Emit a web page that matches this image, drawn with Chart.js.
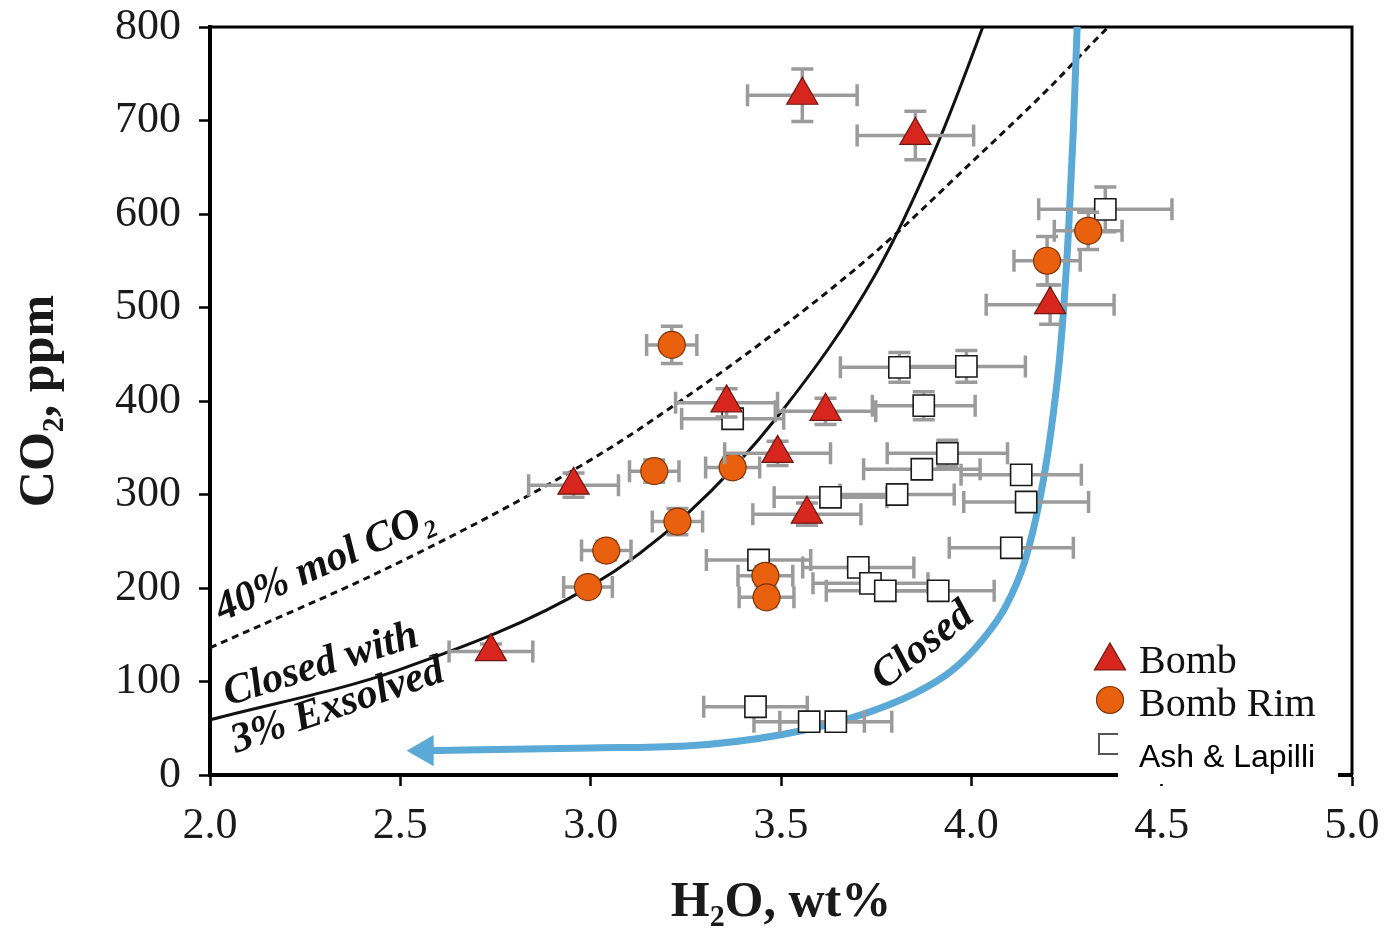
<!DOCTYPE html>
<html>
<head>
<meta charset="utf-8">
<script src="https://cdn.jsdelivr.net/npm/chart.js@4.4.1/dist/chart.umd.min.js"></script>
<style>
  html, body { margin: 0; padding: 0; background: #fff; }
  #wrap { width: 1386px; height: 937px; position: relative; }
</style>
</head>
<body>
<div id="wrap"><canvas id="co2Chart"></canvas></div>
<script>
    // Bomb (triangles)
    const bombH2O    = [3.556, 3.853, 4.207, 3.357, 3.617, 3.491, 2.955, 3.568, 2.738];
    const bombCO2    = [727, 684, 503, 398, 389, 344, 310, 279, 132];
    const bombH2OErr = [0.144, 0.153, 0.168, 0.134, 0.132, 0.139, 0.118, 0.142, 0.110];
    const bombCO2Err = [28, 26, 21, 15, 14, 13, 13, 12, 8];

    // Bomb Rim (circles)
    const rimH2O    = [3.213, 3.167, 3.373, 3.228, 3.041, 2.993, 3.459, 3.462, 4.199, 4.307];
    const rimCO2    = [460, 325, 329, 271, 240, 201, 213, 190, 550, 582];
    const rimH2OErr = [0.066, 0.065, 0.071, 0.066, 0.065, 0.064, 0.072, 0.072, 0.087, 0.089];
    const rimCO2Err = [20, 12, 10, 14, 10, 8, 10, 10, 26, 20];

    // Ash & Lapilli (squares)
    const ashH2O    = [4.352, 3.811, 3.987, 3.875, 3.373, 3.937, 3.870, 4.131, 3.630, 3.805,
                       4.144, 4.105, 3.441, 3.703, 3.735, 3.774, 3.913, 3.433, 3.574, 3.644];
    const ashCO2    = [605, 436, 437, 395, 381, 344, 327, 321, 297, 300,
                       292, 243, 230, 222, 205, 197, 197, 73, 57, 57];
    const ashH2OErr = [0.175, 0.155, 0.155, 0.135, 0.134, 0.158, 0.153, 0.158, 0.148, 0.150,
                       0.164, 0.163, 0.137, 0.146, 0.151, 0.155, 0.147, 0.136, 0.145, 0.147];
    const ashCO2Err = [24, 16, 17, 15, 10, 14, 10, 8, 5, 5,
                       5, 5, 5, 5, 0, 0, 0, 0, 0, 0];

    // model curves
    const mol40H2O = [2.0, 2.5, 3.0, 3.25, 3.5, 3.75, 4.0, 4.2, 4.36, 4.4];
    const mol40CO2 = [136, 228, 337, 404, 478, 560, 655, 733, 800, 815];

    const exsolvedH2O = [2.0, 2.5, 3.0, 3.25, 3.5, 3.75, 3.9, 4.03, 4.06];
    const exsolvedCO2 = [59, 113, 202, 278, 388, 537, 664, 800, 835];

    const closedH2O = [2.564, 3.0, 3.25, 3.5, 3.7, 3.85, 3.95, 4.03, 4.09, 4.14, 4.18, 4.21, 4.235, 4.255, 4.268, 4.278, 4.281];
    const closedCO2 = [26, 29, 31, 43, 63, 87, 112, 145, 180, 228, 295, 370, 460, 580, 690, 800, 830];

    const xTicks = [2.0, 2.5, 3.0, 3.5, 4.0, 4.5, 5.0];
    const yTicks = [0, 100, 200, 300, 400, 500, 600, 700, 800];

    const toPts = (xs, ys) => xs.map((v, i) => ({ x: v, y: ys[i] }));

    Chart.defaults.font.family = '"Liberation Serif", "Times New Roman", serif';
    Chart.defaults.color = '#1a1a1a';

    // gray error bars under each marker series
    const errorBars = {
        id: 'errorBars',
        beforeDatasetDraw(chart, args) {
            const ds = chart.data.datasets[args.index];
            if (!ds.xErr) return;
            const { ctx, scales: { x, y } } = chart;
            const cap = 11;
            ctx.save();
            ctx.strokeStyle = '#9b9b9b';
            ctx.lineWidth = 3.5;
            ds.data.forEach((p, i) => {
                const px = x.getPixelForValue(p.x), py = y.getPixelForValue(p.y);
                const ex = ds.xErr[i], ey = ds.yErr[i];
                ctx.beginPath();
                if (ex) {
                    const l = x.getPixelForValue(p.x - ex), r = x.getPixelForValue(p.x + ex);
                    ctx.moveTo(l, py); ctx.lineTo(r, py);
                    ctx.moveTo(l, py - cap); ctx.lineTo(l, py + cap);
                    ctx.moveTo(r, py - cap); ctx.lineTo(r, py + cap);
                }
                if (ey) {
                    const t = y.getPixelForValue(p.y + ey), b = y.getPixelForValue(p.y - ey);
                    ctx.moveTo(px, t); ctx.lineTo(px, b);
                    ctx.moveTo(px - cap, t); ctx.lineTo(px + cap, t);
                    ctx.moveTo(px - cap, b); ctx.lineTo(px + cap, b);
                }
                ctx.stroke();
            });
            ctx.restore();
        }
    };

    // top/right frame
    const frame = {
        id: 'frame',
        beforeDatasetsDraw(chart) {
            const { ctx, chartArea: a } = chart;
            ctx.save();
            ctx.strokeStyle = '#000';
            ctx.lineWidth = 3;
            ctx.beginPath();
            ctx.moveTo(a.left, a.top); ctx.lineTo(a.right, a.top); ctx.lineTo(a.right, a.bottom);
            ctx.stroke();
            ctx.restore();
        }
    };

    // curve labels, placed in data units
    const curveLabels = [
        { text: '40% mol CO\u2082', x: 2.031, y: 164, angle: -24 },
        { text: 'Closed with', x: 2.047, y: 74, angle: -17.5 },
        { text: '3% Exsolved', x: 2.068, y: 23.5, angle: -19 },
        { text: 'Closed', x: 3.77, y: 90, angle: -38 }
    ];
    const labelsPlugin = {
        id: 'curveLabels',
        afterDatasetsDraw(chart) {
            const { ctx, scales: { x, y } } = chart;
            ctx.save();
            ctx.fillStyle = '#111';
            ctx.font = 'italic bold 42px "Liberation Serif"';
            ctx.textAlign = 'left';
            ctx.textBaseline = 'alphabetic';
            curveLabels.forEach(l => {
                ctx.save();
                ctx.translate(x.getPixelForValue(l.x), y.getPixelForValue(l.y));
                ctx.rotate(l.angle * Math.PI / 180);
                ctx.fillText(l.text, 0, 0);
                ctx.restore();
            });
            ctx.restore();
        }
    };

    // legend in the lower right corner
    const legendBox = {
        id: 'legendBox',
        afterDraw(chart) {
            const ctx = chart.ctx;
            const h = Chart.helpers;
            ctx.save();
            ctx.lineWidth = 1.2;
            ctx.fillStyle = '#d7261e'; ctx.strokeStyle = '#6e1710';
            h.drawPoint(ctx, { pointStyle: 'triangle', radius: 18, rotation: 0, borderWidth: 1.2 }, 1110, 661);
            ctx.fillStyle = '#e9600e'; ctx.strokeStyle = '#7d3509';
            h.drawPoint(ctx, { pointStyle: 'circle', radius: 13.5, rotation: 0, borderWidth: 1.2 }, 1110, 700);

            ctx.fillStyle = '#fff'; ctx.strokeStyle = '#555'; ctx.lineWidth = 2;
            ctx.fillRect(1099, 734, 20, 20);
            ctx.strokeRect(1099, 734, 20, 20);
            ctx.fillStyle = '#fff';
            ctx.fillRect(1118, 730, 220, 54);

            ctx.fillStyle = '#111';
            ctx.textAlign = 'left';
            ctx.textBaseline = 'alphabetic';
            ctx.font = '40px "Liberation Serif"';
            ctx.fillText('Bomb', 1139, 673);
            ctx.fillText('Bomb Rim', 1139, 716);
            ctx.fillStyle = '#000';
            ctx.font = '32px "Liberation Sans"';
            ctx.fillText('Ash & Lapilli', 1139, 767);
            ctx.restore();
        }
    };

    const ctx = document.getElementById('co2Chart').getContext('2d');
    new Chart(ctx, {
        type: 'scatter',
        data: {
            datasets: [
                {
                    label: '40% mol CO2',
                    data: toPts(mol40H2O, mol40CO2),
                    showLine: true, borderColor: '#111', borderWidth: 3, borderDash: [7, 5],
                    pointRadius: 0, cubicInterpolationMode: 'monotone', order: 10
                },
                {
                    label: 'Closed with 3% Exsolved',
                    data: toPts(exsolvedH2O, exsolvedCO2),
                    showLine: true, borderColor: '#111', borderWidth: 3,
                    pointRadius: 0, cubicInterpolationMode: 'monotone', order: 9
                },
                {
                    label: 'Closed',
                    data: toPts(closedH2O, closedCO2),
                    showLine: true, borderColor: '#5ba9d6', borderWidth: 7,
                    backgroundColor: '#5ba9d6',
                    pointStyle: 'triangle', pointRotation: -90,
                    pointRadius: c => c.dataIndex === 0 ? 18 : 0,
                    pointBorderWidth: 0,
                    cubicInterpolationMode: 'monotone', order: 8
                },
                {
                    label: 'Ash & Lapilli',
                    data: toPts(ashH2O, ashCO2),
                    xErr: ashH2OErr, yErr: ashCO2Err,
                    pointStyle: 'rect', pointRadius: 15,
                    backgroundColor: '#fff', borderColor: '#1a1a1a', borderWidth: 1.6, order: 3
                },
                {
                    label: 'Bomb Rim',
                    data: toPts(rimH2O, rimCO2),
                    xErr: rimH2OErr, yErr: rimCO2Err,
                    pointStyle: 'circle', pointRadius: 13.5,
                    backgroundColor: '#e9600e', borderColor: '#7d3509', borderWidth: 1.2, order: 2
                },
                {
                    label: 'Bomb',
                    data: toPts(bombH2O, bombCO2),
                    xErr: bombH2OErr, yErr: bombCO2Err,
                    pointStyle: 'triangle', pointRadius: 18,
                    backgroundColor: '#d7261e', borderColor: '#6e1710', borderWidth: 1.2, order: 1
                }
            ]
        },
        options: {
            responsive: true,
            maintainAspectRatio: false,
            animation: false,
            events: [],
            layout: { padding: { top: 27, right: 34, left: 0, bottom: 0 } },
            plugins: { legend: { display: false }, tooltip: { enabled: false } },
            scales: {
                x: {
                    type: 'linear', min: 2, max: 5,
                    afterBuildTicks: s => { s.ticks = xTicks.map(v => ({ value: v })); },
                    afterFit: s => { s.height = 162; s.paddingLeft = 0; s.paddingRight = 0; },
                    border: { display: true, color: '#000', width: 4 },
                    grid: { drawOnChartArea: false, drawTicks: true, tickLength: 11, tickWidth: 2.5, tickColor: '#000' },
                    ticks: { font: { size: 44 }, padding: 14, maxRotation: 0, callback: v => Number(v).toFixed(1) },
                    title: { display: true, text: 'H\u2082O, wt%', font: { size: 50, weight: 'bold' }, padding: { top: 0, bottom: 4 } }
                },
                y: {
                    type: 'linear', min: 0, max: 800,
                    afterBuildTicks: s => { s.ticks = yTicks.map(v => ({ value: v })); },
                    afterFit: s => { s.width = 210; s.paddingTop = 0; s.paddingBottom = 0; },
                    border: { display: true, color: '#000', width: 4 },
                    grid: { drawOnChartArea: false, drawTicks: true, tickLength: 11, tickWidth: 2.5, tickColor: '#000' },
                    ticks: { font: { size: 44 }, padding: 18 },
                    title: { display: true, text: 'CO\u2082, ppm', font: { size: 50, weight: 'bold' }, padding: { top: 10, bottom: 0 } }
                }
            }
        },
        plugins: [frame, errorBars, labelsPlugin, legendBox]
    });
</script>
</body>
</html>
